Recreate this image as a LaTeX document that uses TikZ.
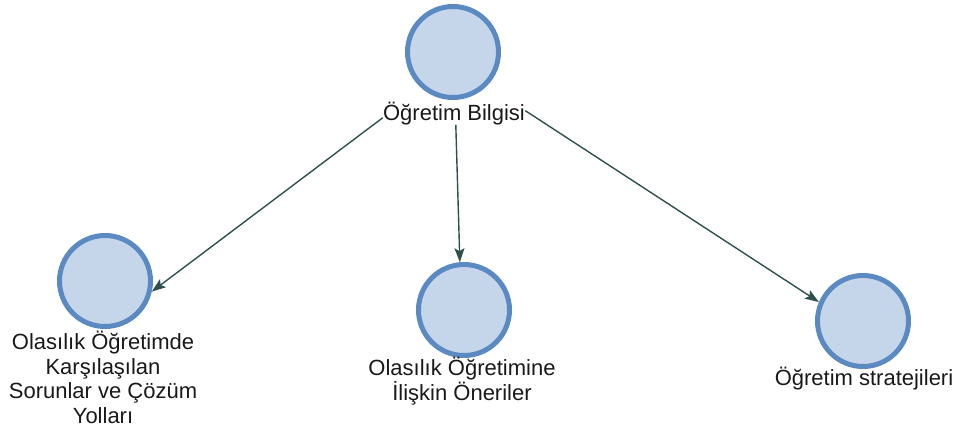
\documentclass[tikz,border=0pt]{standalone}
\usepackage{fontspec}
\setmainfont{Liberation Sans}
\usetikzlibrary{arrows.meta,fit,intersections}
\definecolor{nodefill}{RGB}{198,214,234}
\definecolor{nodeline}{RGB}{90,138,193}
\definecolor{edgecol}{RGB}{45,80,78}
\definecolor{txt}{RGB}{25,25,25}
\begin{document}
\begin{tikzpicture}[x=1pt,y=-1pt,
  vert/.style={circle, draw=nodeline, fill=nodefill, line width=5pt,
    minimum size=91pt, inner sep=0pt},
  vlabel/.style={font=\fontsize{22}{24.5}\selectfont, text=txt,
    align=center, inner sep=0pt},
  group/.style={inner sep=0pt, draw=none},
  link/.style={draw=edgecol, line width=1.4pt,
    -{Stealth[length=14pt,width=10pt,inset=3pt]}}]
\useasboundingbox (0,0) rectangle (962,437);

% vertices and their captions
\node[vert] (cT) at (453,52) {};
\node[vlabel, anchor=base] (lT) at (454,120) {Öğretim Bilgisi};

\node[vert] (cL) at (105,281) {};
\node[vlabel, anchor=north] (lL) at (103,331)
  {Olasılık Öğretimde\\Karşılaşılan\\Sorunlar ve Çözüm\\Yolları};

\node[vert] (cM) at (464,310) {};
\node[vlabel, anchor=north] (lM) at (462,357)
  {Olasılık Öğretimine\\İlişkin Öneriler};

\node[vert] (cR) at (863,321) {};
\node[vlabel, anchor=base] (lR) at (864,385) {Öğretim stratejileri};

% each vertex together with its caption
\node[group, fit=(cT)(lT)] (gT) {};
\node[group, fit=(cL)(lL)] (gL) {};
\node[group, fit=(cM)(lM)] (gM) {};
\node[group, fit=(cR)(lR)] (gR) {};

% edges run between group centres and stop on the target rim
\path[name path=lnL] (gT.center) -- (gL.center);
\path[name path=rimL] (cL.center) circle[radius=48pt];
\path[name intersections={of=lnL and rimL, sort by=lnL, by={endL}}];
\draw[link] (gT) -- (endL);

\path[name path=lnM] (gT.center) -- (gM.center);
\path[name path=rimM] (cM.center) circle[radius=48pt];
\path[name intersections={of=lnM and rimM, sort by=lnM, by={endM}}];
\draw[link] (gT) -- (endM);

\path[name path=lnR] (gT.center) -- (gR.center);
\path[name path=rimR] (cR.center) circle[radius=48pt];
\path[name intersections={of=lnR and rimR, sort by=lnR, by={endR}}];
\draw[link] (gT) -- (endR);
\end{tikzpicture}
\end{document}
